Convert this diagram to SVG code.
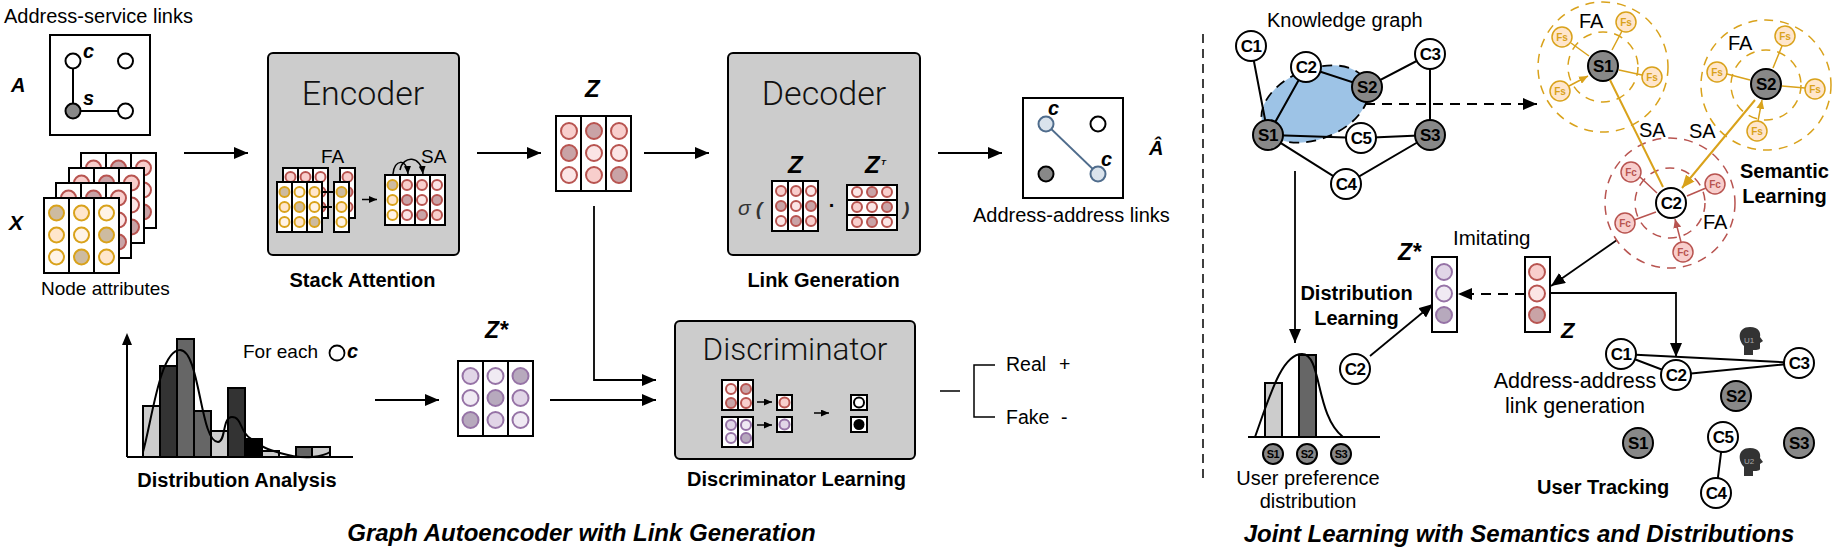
<svg xmlns="http://www.w3.org/2000/svg" width="1836" height="555" viewBox="0 0 1836 555">
<style>
text{font-family:"Liberation Sans",Arial,sans-serif;fill:#000;font-size:20px}
.b{font-weight:bold;font-size:20px}
.v{font-weight:bold;font-style:italic;font-size:20px}
.z{font-weight:bold;font-style:italic;font-size:24px}
.t{font-weight:bold;font-style:italic;font-size:24px}
.mid{text-anchor:middle}
.h{font-family:Roboto,"Liberation Sans",sans-serif;font-weight:300;font-size:34px;fill:#111}
.nl{font-weight:bold;font-size:17px;letter-spacing:-0.5px;text-anchor:middle}
.box{fill:#ccc;stroke:#000;stroke-width:2}
.m{fill:#fff;stroke:#000;stroke-width:2}
.l{fill:none;stroke:#000;stroke-width:2}
.w{fill:#fff;stroke:#000;stroke-width:2}
.s{fill:#888;stroke:#000;stroke-width:2}
.r1,.r2,.r3{stroke:#B85450;stroke-width:2}
.r1{fill:#F8CECC}.r2{fill:#FBE5E5}.r3{fill:#C9A3A6}
.g1,.g2,.g3{stroke:#D9A21B;stroke-width:2}
.g1{fill:#FFE6CC}.g2{fill:#FFF3E6}.g3{fill:#CDBBA0}
.p1,.p2,.p3{stroke:#9673A6;stroke-width:2}
.p1{fill:#E1D5E7}.p2{fill:#F0EAF3}.p3{fill:#B7A9BD}
.fs{fill:#FFE6CC;stroke:#D9A21B;stroke-width:1.5}
.fc{fill:#F8CECC;stroke:#B85450;stroke-width:1.5}
.fst{font-size:10px;font-weight:bold;fill:#D9A21B;text-anchor:middle}
.fct{font-size:10px;font-weight:bold;fill:#B85450;text-anchor:middle}
.dg{fill:none;stroke:#D9A21B;stroke-width:1.5;stroke-dasharray:9 7}
.dr{fill:none;stroke:#B85450;stroke-width:1.5;stroke-dasharray:9 7}
.ag{fill:none;stroke:#D9A21B;stroke-width:1.5;marker-end:url(#mg)}
.ar{fill:none;stroke:#B85450;stroke-width:1.5;marker-end:url(#mr)}
.a{fill:none;stroke:#000;stroke-width:1.8;marker-end:url(#mb)}
.as{fill:none;stroke:#000;stroke-width:1.5;marker-end:url(#ms)}
</style>
<defs>
<marker id="mb" markerUnits="userSpaceOnUse" markerWidth="14" markerHeight="12" refX="14" refY="6" orient="auto"><path d="M0,0L14,6L0,12z"/></marker>
<marker id="ms" markerUnits="userSpaceOnUse" markerWidth="8" markerHeight="7" refX="8" refY="3.5" orient="auto"><path d="M0,0L8,3.5L0,7z"/></marker>
<marker id="mg" markerUnits="userSpaceOnUse" markerWidth="9" markerHeight="8" refX="9" refY="4" orient="auto"><path d="M0,0L9,4L0,8z" fill="#D9A21B"/></marker>
<marker id="mr" markerUnits="userSpaceOnUse" markerWidth="9" markerHeight="8" refX="9" refY="4" orient="auto"><path d="M0,0L9,4L0,8z" fill="#B85450"/></marker>
<marker id="mgb" markerUnits="userSpaceOnUse" markerWidth="13" markerHeight="11" refX="13" refY="5.5" orient="auto"><path d="M0,0L13,5.5L0,11z" fill="#D9A21B"/></marker>
</defs>

<g id="connectors">
<path class="a" d="M184,153H248"/>
<path class="a" d="M477,153H541"/>
<path class="a" d="M644,153H709"/>
<path class="a" d="M938,153H1002"/>
<path class="a" d="M594,206V380H656"/>
<path class="a" d="M375,400H439"/>
<path class="a" d="M550,400H656"/>
<path class="l" stroke-width="1.500" style="stroke-width:1.500" d="M940,391H960M995,365H974V417H995"/>
<path class="a" d="M1295,171V343"/>
<path class="a" d="M1370,356L1433,304"/>
<path class="a" d="M1617,240L1551,286"/>
<path class="a" d="M1550,293H1676V357"/>
<path class="a" stroke-dasharray="10 7" d="M1525,294H1458"/>
</g>

<g id="address-service">
<text x="4" y="23">Address-service links</text>
<rect class="m" x="50" y="35" width="100" height="100"/>
<path class="l" d="M73,61V111H125"/>
<circle class="w" cx="73" cy="61" r="7.5"/><circle class="w" cx="125.500" cy="61" r="7.500"/>
<circle class="s" cx="73" cy="111" r="7.500"/><circle class="w" cx="125.500" cy="111" r="7.500"/>
<text class="v" x="83" y="58">c</text><text class="v" x="83" y="105">s</text>
<text class="v" x="11" y="92">A</text>
</g>

<g id="node-attributes">
<rect class="m" x="81" y="153" width="75" height="75"/><path class="l" d="M106,153v75M131,153v75"/>
<circle class="r1" cx="93.500" cy="168" r="7.500"/><circle class="r3" cx="118.500" cy="168" r="7.500"/><circle class="r1" cx="143.500" cy="168" r="7.500"/>
<circle class="r2" cx="143.500" cy="190" r="7.500"/><circle class="r3" cx="143.500" cy="212" r="7.500"/>
<rect class="m" x="69" y="168" width="75" height="75"/><path class="l" d="M94,168v75M119,168v75"/>
<circle class="r1" cx="81.500" cy="183" r="7.500"/><circle class="r3" cx="106.500" cy="183" r="7.500"/><circle class="r1" cx="131.500" cy="183" r="7.500"/>
<circle class="r2" cx="131.500" cy="205" r="7.500"/><circle class="r3" cx="131.500" cy="227" r="7.500"/>
<rect class="m" x="56" y="183" width="75" height="75"/><path class="l" d="M81,183v75M106,183v75"/>
<circle class="r1" cx="68.500" cy="198" r="7.500"/><circle class="r3" cx="93.500" cy="198" r="7.500"/><circle class="r1" cx="118.500" cy="198" r="7.500"/>
<circle class="r2" cx="118.500" cy="220" r="7.500"/><circle class="r3" cx="118.500" cy="242" r="7.500"/>
<rect class="m" x="44" y="198" width="75" height="75"/><path class="l" d="M69,198v75M94,198v75"/>
<circle class="g3" cx="56.500" cy="213" r="7.500"/><circle class="g1" cx="81.500" cy="213" r="7.500"/><circle class="g2" cx="106.500" cy="213" r="7.500"/>
<circle class="g1" cx="56.500" cy="235" r="7.500"/><circle class="g2" cx="81.500" cy="235" r="7.500"/><circle class="g3" cx="106.500" cy="235" r="7.500"/>
<circle class="g2" cx="56.500" cy="257" r="7.500"/><circle class="g3" cx="81.500" cy="257" r="7.500"/><circle class="g1" cx="106.500" cy="257" r="7.500"/>
<text class="v" x="9" y="230" style="font-size:21px">X</text>
<text x="41" y="295" style="font-size:19px">Node attributes</text>
</g>

<g id="encoder">
<rect class="box" x="268" y="53" width="191" height="202" rx="5"/>
<text class="h mid" x="363" y="105">Encoder</text>
<text x="321" y="163" style="font-size:19px">FA</text>
<rect class="m" x="283" y="168" width="45" height="50"/><path class="l" d="M298,168v50M313,168v50"/>
<circle class="r1" cx="290.500" cy="177" r="5"/><circle class="r1" cx="305.500" cy="177" r="5"/><circle class="r2" cx="320.500" cy="177" r="5"/>
<circle class="r1" cx="320.500" cy="192" r="5"/><circle class="r3" cx="320.500" cy="207" r="5"/>
<rect class="m" x="340" y="168" width="15" height="50"/>
<circle class="r1" cx="347.500" cy="177" r="5"/><circle class="r3" cx="347.500" cy="192" r="5"/><circle class="r1" cx="347.500" cy="207" r="5"/>
<path class="l" d="M322,192H334M322,207H332"/>
<rect class="m" x="277" y="182" width="45" height="50"/><path class="l" d="M292,182v50M307,182v50"/>
<circle class="g3" cx="284.500" cy="192" r="5"/><circle class="g2" cx="299.500" cy="192" r="5"/><circle class="g1" cx="314.500" cy="192" r="5"/>
<circle class="g1" cx="284.500" cy="207" r="5"/><circle class="g3" cx="299.500" cy="207" r="5"/><circle class="g2" cx="314.500" cy="207" r="5"/>
<circle class="g2" cx="284.500" cy="222" r="5"/><circle class="g1" cx="299.500" cy="222" r="5"/><circle class="g3" cx="314.500" cy="222" r="5"/>
<rect class="m" x="334" y="182" width="15" height="50"/>
<circle class="g3" cx="341.500" cy="192" r="5"/><circle class="g1" cx="341.500" cy="207" r="5"/><circle class="g2" cx="341.500" cy="222" r="5"/>
<path class="as" d="M362,199.500H377"/>
<rect class="m" x="385" y="175" width="60" height="50"/><path class="l" d="M400,175v50M415,175v50M430,175v50"/>
<circle class="g3" cx="392.500" cy="185" r="5"/><circle class="g1" cx="392.500" cy="200" r="5"/><circle class="g2" cx="392.500" cy="215" r="5"/>
<circle class="r1" cx="407" cy="185" r="5"/><circle class="r3" cx="407" cy="200" r="5"/><circle class="r2" cx="407" cy="215" r="5"/>
<circle class="r1" cx="422" cy="185" r="5"/><circle class="r2" cx="422" cy="200" r="5"/><circle class="r3" cx="422" cy="215" r="5"/>
<circle class="r2" cx="437" cy="185" r="5"/><circle class="r3" cx="437" cy="200" r="5"/><circle class="r1" cx="437" cy="215" r="5"/>
<path class="as" d="M393,174C394,159 407,158 408,174"/>
<path class="as" d="M400,170C403,155 421,155 423,174"/>
<text x="421" y="163" style="font-size:19px">SA</text>
<text class="b mid" x="362.500" y="287">Stack Attention</text>
</g>

<g id="z-matrix">
<text class="z" x="585" y="97">Z</text>
<rect class="m" x="556" y="116" width="75" height="75"/><path class="l" d="M581,116v75M606,116v75"/>
<circle class="r1" cx="569" cy="131" r="8"/><circle class="r3" cx="594" cy="131" r="8"/><circle class="r1" cx="619" cy="131" r="8"/>
<circle class="r3" cx="569" cy="153" r="8"/><circle class="r2" cx="594" cy="153" r="8"/><circle class="r2" cx="619" cy="153" r="8"/>
<circle class="r2" cx="569" cy="175" r="8"/><circle class="r1" cx="594" cy="175" r="8"/><circle class="r3" cx="619" cy="175" r="8"/>
</g>

<g id="decoder">
<rect class="box" x="728" y="53" width="192" height="202" rx="5"/>
<text class="h mid" x="824" y="105">Decoder</text>
<text class="z" x="788" y="173">Z</text>
<text class="z" x="865" y="173">Z</text><text class="v" x="881" y="165" style="font-size:8px">T</text>
<text x="738" y="215" style="font-size:21px;font-style:italic;fill:#333">σ</text>
<text x="756" y="215" style="font-size:19px;font-style:italic;font-weight:bold;fill:#333">(</text>
<rect class="m" x="772" y="181" width="46" height="50"/><path class="l" d="M788,181v50M803,181v50"/>
<circle class="r1" cx="781" cy="191" r="5"/><circle class="r1" cx="796" cy="191" r="5"/><circle class="r2" cx="811" cy="191" r="5"/>
<circle class="r3" cx="781" cy="206" r="5"/><circle class="r2" cx="796" cy="206" r="5"/><circle class="r3" cx="811" cy="206" r="5"/>
<circle class="r2" cx="781" cy="221" r="5"/><circle class="r3" cx="796" cy="221" r="5"/><circle class="r1" cx="811" cy="221" r="5"/>
<text class="mid" x="832" y="212" style="font-weight:bold">·</text>
<rect class="m" x="847" y="185" width="50" height="45"/><path class="l" d="M847,200h50M847,215h50"/>
<circle class="r2" cx="857" cy="192" r="5"/><circle class="r3" cx="872" cy="192" r="5"/><circle class="r1" cx="887" cy="192" r="5"/>
<circle class="r1" cx="857" cy="207" r="5"/><circle class="r2" cx="872" cy="207" r="5"/><circle class="r3" cx="887" cy="207" r="5"/>
<circle class="r1" cx="857" cy="222" r="5"/><circle class="r3" cx="872" cy="222" r="5"/><circle class="r2" cx="887" cy="222" r="5"/>
<text x="903" y="215" style="font-size:19px;font-style:italic;font-weight:bold;fill:#333">)</text>
<text class="b mid" x="823.500" y="287">Link Generation</text>
</g>

<g id="address-address">
<rect class="m" x="1023" y="98" width="100" height="100"/>
<path d="M1046,124L1098,174" fill="none" stroke="#4F6C8C" stroke-width="1.800"/>
<circle cx="1046" cy="124" r="7.500" fill="#DAE3EC" stroke="#4F6C8C" stroke-width="2"/>
<circle class="w" cx="1098" cy="124" r="7.500"/>
<circle class="s" cx="1046" cy="174" r="7.500"/>
<circle cx="1098" cy="174" r="7.500" fill="#DAE3EC" stroke="#4F6C8C" stroke-width="2"/>
<text class="v" x="1048" y="115">c</text><text class="v" x="1101" y="166">c</text>
<text class="v" x="1149" y="155">Â</text>
<text x="973" y="222">Address-address links</text>
</g>

<g id="distribution-analysis">
<path class="l" d="M127,457V345M127,457H353"/>
<path d="M127,333l-5,12h10z"/>
<g stroke="#000" stroke-width="2">
<rect x="143" y="406" width="17" height="51" fill="#ccc"/>
<rect x="160" y="366" width="17" height="91" fill="#333"/>
<rect x="177" y="339" width="17" height="118" fill="#666"/>
<rect x="194" y="411" width="17" height="46" fill="#666"/>
<rect x="211" y="431" width="17" height="26" fill="#ccc"/>
<rect x="228" y="388" width="17" height="69" fill="#333"/>
<rect x="245" y="439" width="17" height="18" fill="#000"/>
<rect x="262" y="451" width="17" height="6" fill="#ccc"/>
<rect x="296" y="447" width="16" height="10" fill="#666"/>
<rect x="312" y="447" width="18" height="10" fill="#ccc"/>
</g>
<path class="l" d="M143,452C152,420 160,350 180,350C200,350 200,442 218,442C226,442 222,417 232,417C242,417 240,432 250,438C260,447 270,450 280,453C290,456 300,458 312,457C320,456 326,455 330,452"/>
<text x="243" y="358" style="font-size:19px">For each</text>
<circle cx="337" cy="353" r="7.500" fill="#fff" stroke="#000" stroke-width="1.800"/>
<text class="v" x="347" y="358">c</text>
<text class="b mid" x="237" y="487">Distribution Analysis</text>
</g>

<g id="z-star-matrix">
<text class="z" x="485" y="338" style="font-size:23px">Z*</text>
<rect class="m" x="458" y="361" width="75" height="75"/><path class="l" d="M483,361v75M508,361v75"/>
<circle class="p1" cx="470.500" cy="376" r="8"/><circle class="p2" cx="495.500" cy="376" r="8"/><circle class="p3" cx="520.500" cy="376" r="8"/>
<circle class="p2" cx="470.500" cy="398" r="8"/><circle class="p3" cx="495.500" cy="398" r="8"/><circle class="p1" cx="520.500" cy="398" r="8"/>
<circle class="p3" cx="470.500" cy="420" r="8"/><circle class="p1" cx="495.500" cy="420" r="8"/><circle class="p2" cx="520.500" cy="420" r="8"/>
</g>

<g id="discriminator">
<rect class="box" x="675" y="321" width="240" height="138" rx="5"/>
<text class="h mid" x="795" y="360" style="font-size:31.500px">Discriminator</text>
<rect class="m" x="722" y="380" width="31" height="30"/><path class="l" d="M738,380v30"/>
<circle class="r2" cx="731" cy="389" r="5"/><circle class="r3" cx="746" cy="389" r="5"/><circle class="r3" cx="731" cy="403" r="5"/><circle class="r1" cx="746" cy="403" r="5"/>
<path class="as" d="M757,402H772"/>
<rect class="m" x="777" y="395" width="15" height="15"/><circle class="r1" cx="784.500" cy="402.500" r="5"/>
<rect class="m" x="722" y="417" width="31" height="30"/><path class="l" d="M738,417v30"/>
<circle class="p1" cx="731" cy="425" r="5"/><circle class="p2" cx="746" cy="425" r="5"/><circle class="p2" cx="731" cy="438" r="5"/><circle class="p3" cx="746" cy="438" r="5"/>
<path class="as" d="M757,425H772"/>
<rect class="m" x="777" y="417" width="15" height="15"/><circle class="p1" cx="784.500" cy="424.500" r="5"/>
<path class="as" d="M814,413H829"/>
<rect class="m" x="851" y="395" width="16" height="15"/><circle class="w" cx="859" cy="402.500" r="5"/>
<rect class="m" x="851" y="417" width="16" height="15"/><circle cx="859" cy="424.500" r="5.500"/>
<text class="b mid" x="796.500" y="486">Discriminator Learning</text>
</g>

<g id="real-fake">
<text x="1006" y="371" style="font-size:19.500px">Real</text><text x="1059" y="371" style="font-size:19.500px">+</text>
<text x="1006" y="424" style="font-size:19.500px">Fake</text><text x="1061" y="424" style="font-size:19.500px">-</text>
</g>

<text class="t mid" x="581.500" y="541">Graph Autoencoder with Link Generation</text>
<text class="t mid" x="1519" y="542">Joint Learning with Semantics and Distributions</text>
<path d="M1203,34V483" fill="none" stroke="#000" stroke-width="1.500" stroke-dasharray="9 6"/>

<g id="knowledge-graph">
<text x="1267" y="27">Knowledge graph</text>
<ellipse cx="1315" cy="104" rx="56" ry="35" transform="rotate(-22 1315 104)" fill="#9DC3E6" stroke="#000" stroke-width="1.800" stroke-dasharray="10 7"/>
<path class="l" d="M1251,46L1268,135M1306,67L1268,135M1306,67L1367,87L1430,54V135L1361,138L1268,135L1346,184L1430,135"/>
<path class="a" stroke-dasharray="10 7" d="M1365,104H1537"/>
<g id="kg-c1"><circle class="w" cx="1251" cy="46" r="15"/><text class="nl" x="1251" y="52">C1</text></g>
<g id="kg-c2"><circle class="w" cx="1306" cy="67" r="15"/><text class="nl" x="1306" y="73">C2</text></g>
<g id="kg-c3"><circle class="w" cx="1430" cy="54" r="15"/><text class="nl" x="1430" y="60">C3</text></g>
<g id="kg-c4"><circle class="w" cx="1346" cy="184" r="15"/><text class="nl" x="1346" y="190">C4</text></g>
<g id="kg-c5"><circle class="w" cx="1361" cy="138" r="15"/><text class="nl" x="1361" y="144">C5</text></g>
<g id="kg-s1"><circle class="s" cx="1268" cy="135" r="15"/><text class="nl" x="1268" y="141">S1</text></g>
<g id="kg-s2"><circle class="s" cx="1367" cy="87" r="15"/><text class="nl" x="1367" y="93">S2</text></g>
<g id="kg-s3"><circle class="s" cx="1430" cy="135" r="15"/><text class="nl" x="1430" y="141">S3</text></g>
</g>

<g id="semantic-s1">
<circle class="dg" cx="1603" cy="67" r="65"/><circle class="dg" cx="1603" cy="67" r="35"/>
<path class="ag" d="M1571,43L1589,56M1622,31L1612,50M1642,75L1619,70M1569,86L1588,76"/>
<circle class="fs" cx="1562" cy="37" r="10"/><text class="fst" x="1562" y="40.500">Fs</text>
<circle class="fs" cx="1626" cy="22" r="10"/><text class="fst" x="1626" y="25.500">Fs</text>
<circle class="fs" cx="1652" cy="77" r="10"/><text class="fst" x="1652" y="80.500">Fs</text>
<circle class="fs" cx="1560" cy="91" r="10"/><text class="fst" x="1560" y="94.500">Fs</text>
<circle class="s" cx="1603" cy="66" r="15"/><text class="nl" x="1603" y="72">S1</text>
<text x="1579" y="28">FA</text>
</g>
<g id="semantic-s2">
<circle class="dg" cx="1766" cy="85" r="65"/><circle class="dg" cx="1766" cy="85" r="35"/>
<path class="ag" d="M1782,46L1773,68M1727,74L1750,80M1805,88L1782,86M1758,121L1762,100"/>
<circle class="fs" cx="1785" cy="36" r="10"/><text class="fst" x="1785" y="39.500">Fs</text>
<circle class="fs" cx="1717" cy="72" r="10"/><text class="fst" x="1717" y="75.500">Fs</text>
<circle class="fs" cx="1815" cy="89" r="10"/><text class="fst" x="1815" y="92.500">Fs</text>
<circle class="fs" cx="1757" cy="131" r="10"/><text class="fst" x="1757" y="134.500">Fs</text>
<circle class="s" cx="1766" cy="84" r="15"/><text class="nl" x="1766" y="90">S2</text>
<text x="1728" y="50">FA</text>
</g>
<g id="semantic-c2">
<circle class="dr" cx="1670" cy="203" r="65"/><circle class="dr" cx="1670" cy="203" r="35"/>
<path class="ar" d="M1640,177L1657,193M1706,188L1687,196M1634,220L1656,212M1681,242L1675,219"/>
<circle class="fc" cx="1631" cy="172" r="10"/><text class="fct" x="1631" y="175.500">Fc</text>
<circle class="fc" cx="1715" cy="184" r="10"/><text class="fct" x="1715" y="187.500">Fc</text>
<circle class="fc" cx="1625" cy="223" r="10"/><text class="fct" x="1625" y="226.500">Fc</text>
<circle class="fc" cx="1683" cy="252" r="10"/><text class="fct" x="1683" y="255.500">Fc</text>
<path d="M1610,80L1663,187M1755,100L1682,188" fill="none" stroke="#D9A21B" stroke-width="2" marker-end="url(#mgb)"/>
<circle class="w" cx="1671" cy="203" r="15"/><text class="nl" x="1671" y="209">C2</text>
<text x="1703" y="229">FA</text>
<text x="1639" y="137">SA</text>
<text x="1689" y="138">SA</text>
</g>
<text class="b mid" x="1784.500" y="178">Semantic</text>
<text class="b mid" x="1784.500" y="203">Learning</text>

<g id="distribution-learning">
<text class="b mid" x="1356.500" y="300">Distribution</text>
<text class="b mid" x="1356.500" y="325">Learning</text>
<rect x="1265" y="383" width="17" height="54" fill="#ccc" stroke="#000" stroke-width="2"/>
<rect x="1299" y="355" width="17" height="82" fill="#666" stroke="#000" stroke-width="2"/>
<path class="l" d="M1248,437H1380M1255,437C1270,395 1282,354 1302,354C1322,354 1315,415 1343,437"/>
<circle class="s" cx="1273" cy="454" r="10"/><text class="nl" x="1273" y="458" style="font-size:11px">S1</text>
<circle class="s" cx="1307" cy="454" r="10"/><text class="nl" x="1307" y="458" style="font-size:11px">S2</text>
<circle class="s" cx="1341" cy="454" r="10"/><text class="nl" x="1341" y="458" style="font-size:11px">S3</text>
<text class="mid" x="1308" y="485">User preference</text>
<text class="mid" x="1308" y="508">distribution</text>
<g id="input-c2"><circle class="w" cx="1355" cy="369" r="15"/><text class="nl" x="1355" y="375">C2</text></g>
</g>

<g id="imitating">
<text class="z" x="1398" y="260" style="font-size:23px">Z*</text>
<text x="1453" y="245" style="font-size:20.500px">Imitating</text>
<rect class="m" x="1432" y="257" width="25" height="75"/>
<circle class="p1" cx="1444" cy="272" r="8"/><circle class="p2" cx="1444" cy="293.500" r="8"/><circle class="p3" cx="1444" cy="315" r="8"/>
<rect class="m" x="1525" y="257" width="25" height="75"/>
<circle class="r1" cx="1537" cy="272" r="8"/><circle class="r2" cx="1537" cy="293.500" r="8"/><circle class="r3" cx="1537" cy="315" r="8"/>
<text class="z" x="1561" y="338" style="font-size:22px">Z</text>
</g>

<g id="user-tracking">
<path class="l" d="M1621,354L1799,363L1676,375L1621,354M1723,437L1716,493"/>
<g id="ut-c1"><circle class="w" cx="1621" cy="354" r="15"/><text class="nl" x="1621" y="360">C1</text></g>
<g id="ut-c2"><circle class="w" cx="1676" cy="375" r="15"/><text class="nl" x="1676" y="381">C2</text></g>
<g id="ut-c3"><circle class="w" cx="1799" cy="363" r="15"/><text class="nl" x="1799" y="369">C3</text></g>
<g id="ut-c4"><circle class="w" cx="1716" cy="493" r="15"/><text class="nl" x="1716" y="499">C4</text></g>
<g id="ut-c5"><circle class="w" cx="1723" cy="437" r="15"/><text class="nl" x="1723" y="443">C5</text></g>
<g id="ut-s1"><circle class="s" cx="1638" cy="443" r="15"/><text class="nl" x="1638" y="449">S1</text></g>
<g id="ut-s2"><circle class="s" cx="1736" cy="396" r="15"/><text class="nl" x="1736" y="402">S2</text></g>
<g id="ut-s3"><circle class="s" cx="1799" cy="443" r="15"/><text class="nl" x="1799" y="449">S3</text></g>
<g id="u1"><path fill="#333" d="M1744,355V346C1738,340 1737,327 1750,327C1759,327 1761,333 1760,337L1763,341L1760,343V348C1760,350 1755,350 1753,350V355Z"/><text x="1749" y="343" text-anchor="middle" style="font-size:8px;fill:#aaa">U1</text></g>
<g id="u2"><path fill="#333" d="M1744,476V467C1738,461 1737,448 1750,448C1759,448 1761,454 1760,458L1763,462L1760,464V469C1760,471 1755,471 1753,471V476Z"/><text x="1749" y="464" text-anchor="middle" style="font-size:8px;fill:#aaa">U2</text></g>
<text class="mid" x="1575" y="388" style="font-size:21.500px">Address-address</text>
<text class="mid" x="1575" y="413" style="font-size:21.500px">link generation</text>
<text class="b" x="1537" y="494">User Tracking</text>
</g>
</svg>
